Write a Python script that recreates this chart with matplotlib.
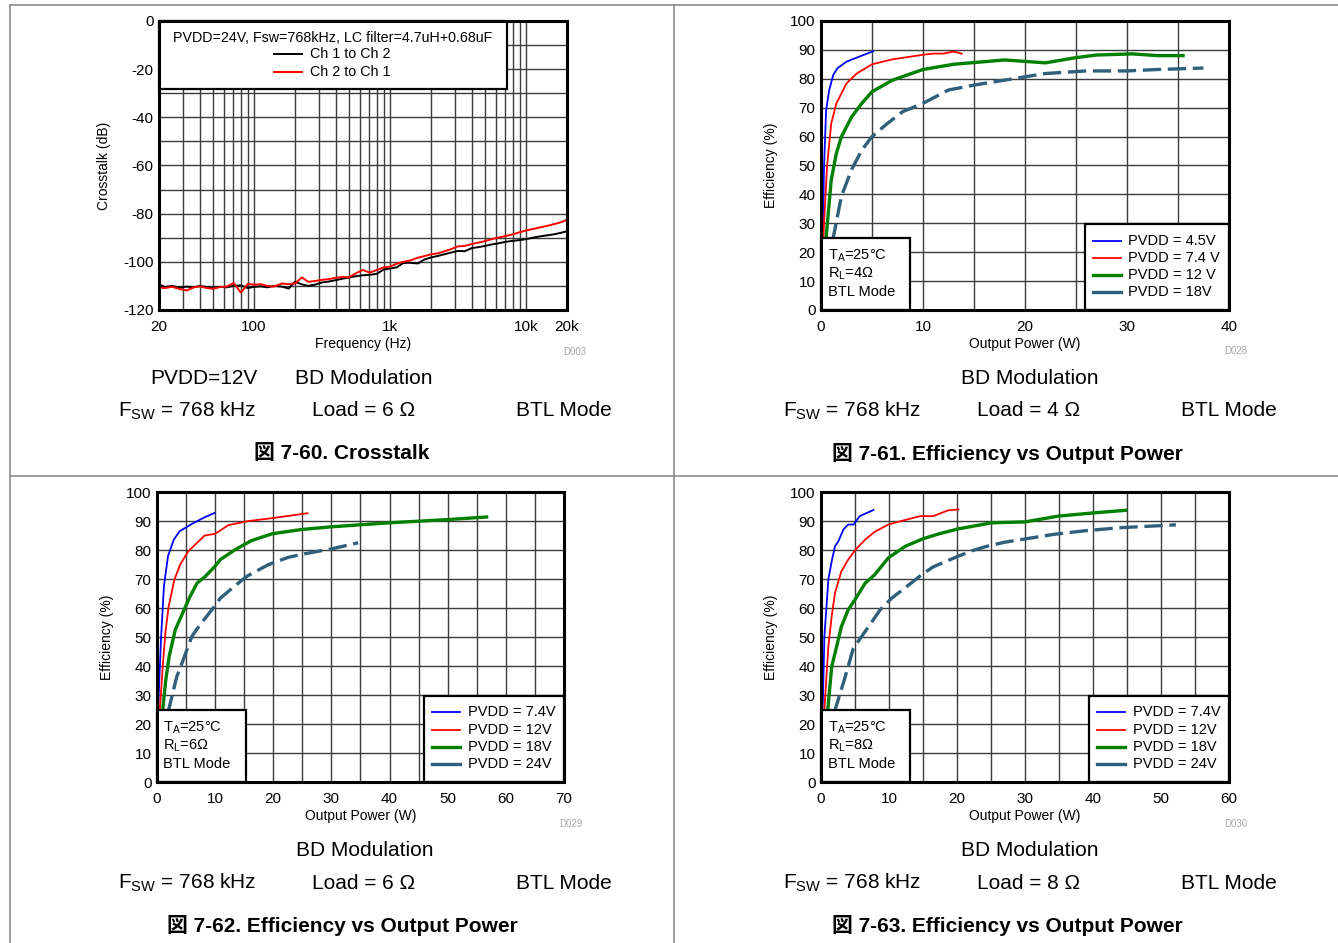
import matplotlib
matplotlib.use("Agg")
import matplotlib.pyplot as plt
from matplotlib.patches import Rectangle
from matplotlib.lines import Line2D
from matplotlib.ticker import MultipleLocator, LogLocator, NullFormatter

plt.rcParams["font.family"] = ["Liberation Sans", "Noto Sans CJK JP", "DejaVu Sans"]
plt.rcParams["mathtext.fontset"] = "custom"
plt.rcParams["mathtext.rm"] = "Liberation Sans"
plt.rcParams["mathtext.it"] = "Liberation Sans:italic"
plt.rcParams["mathtext.bf"] = "Liberation Sans:bold"
plt.rcParams["axes.unicode_minus"] = False

# ---- crosstalk data (dB vs Hz)
ct_freq = [20, 22, 25, 28, 32, 36, 40, 45, 50, 56, 63, 71, 80, 90, 100, 112, 125, 140,
           160, 180, 200, 225, 250, 280, 315, 355, 400, 450, 500, 560, 630, 710, 800,
           900, 1000, 1120, 1250, 1400, 1600, 1800, 2000, 2240, 2500, 2800, 3150, 3550,
           4000, 4500, 5000, 5600, 6300, 7100, 8000, 9000, 10000, 11200, 12500, 14000,
           16000, 18000, 20000]
ct_ch1_ch2 = [-109.2, -110.5, -110.0, -110.8, -110.3, -110.6, -110.0, -110.5, -110.8,
              -110.4, -110.6, -110.0, -109.8, -110.9, -110.4, -110.2, -110.6, -110.0,
              -110.3, -111.1, -108.3, -109.4, -110.0, -109.5, -108.6, -108.2, -107.6,
              -107.0, -106.5, -106.0, -105.6, -105.4, -105.0, -103.2, -102.8, -102.3,
              -100.5, -100.4, -100.7, -99.0, -98.2, -97.6, -96.9, -96.2, -95.5, -95.6,
              -94.3, -93.9, -93.4, -92.8, -92.3, -91.7, -91.3, -91.0, -90.6, -90.0,
              -89.5, -89.1, -88.6, -88.0, -87.3]
ct_ch2_ch1 = [-110.7, -110.9, -110.4, -111.2, -111.9, -110.6, -110.2, -110.9, -111.2,
              -110.5, -110.3, -108.8, -112.8, -109.2, -109.5, -109.3, -110.0, -110.3,
              -109.0, -109.3, -109.0, -106.5, -108.3, -108.0, -107.5, -107.2, -106.6,
              -106.3, -106.4, -104.8, -103.4, -104.5, -103.4, -102.3, -102.0, -100.8,
              -100.0, -99.5, -98.3, -97.6, -96.9, -96.5, -95.7, -94.8, -93.6, -93.4,
              -92.6, -92.0, -91.4, -90.6, -89.9, -89.3, -88.6, -87.7, -87.0, -86.4,
              -85.8, -85.2, -84.4, -83.6, -82.6]

# ---- efficiency, 4 ohm
e4_45_p = [0.1, 0.2, 0.3, 0.5, 0.8, 1.2, 1.6, 2.5, 3.5, 5.1]
e4_45_e = [18, 30, 50, 69, 76, 81.3, 83.6, 85.9, 87.3, 89.5]
e4_74_p = [0.15, 0.3, 0.6, 1.0, 1.5, 2.5, 3.5, 5, 7, 10, 11, 12, 13, 13.8]
e4_74_e = [18, 30, 50, 64.5, 71.4, 78.4, 81.8, 85.0, 86.7, 88.3, 88.7, 88.7, 89.4, 88.7]
e4_12_p = [0.3, 0.5, 1.0, 1.5, 2, 3, 4, 5, 7, 10, 13, 18, 22, 25, 27, 30.5, 33, 35.5]
e4_12_e = [15, 25, 44.9, 54.1, 59.9, 66.8, 71.5, 75.5, 79.5, 83.2, 85.0, 86.5, 85.5,
           87.3, 88.2, 88.6, 88.0, 88.0]
e4_18_p = [0.8, 1.2, 2, 3, 4, 5, 6.5, 8, 10, 12.5, 15, 18.5, 22, 26, 30, 33, 37.5]
e4_18_e = [15, 25, 39.3, 48.6, 55.3, 60.0, 64.5, 68.6, 71.5, 76.1, 77.8, 79.8, 81.8,
           82.7, 82.7, 83.2, 83.7]

# ---- efficiency, 6 ohm
e6_74_p = [0.1, 0.3, 0.7, 1.2, 1.9, 2.9, 3.9, 6, 8, 9.9]
e6_74_e = [15, 30, 49.4, 67.5, 77.9, 83.6, 86.5, 89.0, 91.1, 92.8]
e6_12_p = [0.3, 0.5, 1.0, 1.43, 2, 3, 4, 5.4, 6.9, 8.2, 10, 12.3, 15.7, 19.8, 25.9]
e6_12_e = [15, 25, 40, 51.1, 60.4, 69.8, 75.0, 79.6, 82.5, 85.0, 85.6, 88.6, 90.0,
           91.0, 92.7]
e6_18_p = [0.7, 1.0, 1.5, 2.1, 3.15, 4.4, 5.7, 6.9, 8.3, 10, 10.9, 13.5, 16.3, 19.8,
           24.9, 29.9, 40, 49.9, 56.7]
e6_18_e = [15, 25, 35, 43.3, 52.5, 58.2, 64.0, 68.6, 70.9, 74.4, 76.7, 80.2, 83.3,
           85.6, 87.1, 88.0, 89.4, 90.5, 91.4]
e6_24_p = [1.5, 2, 3.4, 4.4, 6, 7.4, 9.45, 10.9, 13.5, 15.5, 19.2, 22.6, 25.6, 30, 34.6]
e6_24_e = [15, 24.8, 36.3, 41.5, 50.2, 54.2, 59.4, 63.4, 67.8, 71.0, 75.0, 77.5, 78.8,
           80.4, 82.5]

# ---- efficiency, 8 ohm
e8_74_p = [0.1, 0.3, 0.5, 1.08, 1.57, 2.06, 2.55, 3.3, 4, 4.8, 5.7, 7.7]
e8_74_e = [15, 30, 50.2, 69.8, 76.1, 81.3, 83.0, 87.1, 88.8, 88.8, 91.7, 93.8]
e8_12_p = [0.3, 0.5, 1.08, 1.57, 2.06, 3, 4, 5.1, 6.5, 7.9, 9.9, 12.1, 14.6, 16.5,
           18.7, 20.2]
e8_12_e = [15, 25, 46.7, 57.1, 65.2, 72.7, 76.7, 80.2, 83.6, 86.3, 88.8, 90.2, 91.7,
           91.7, 93.7, 94.0]
e8_18_p = [0.7, 1.0, 1.57, 2.06, 3, 4, 5, 6.5, 7.9, 9.9, 12.4, 15, 17.5, 20.2, 25.1,
           30, 34.9, 40, 44.8]
e8_18_e = [15, 25, 39.8, 44.4, 53.6, 59.4, 62.9, 68.6, 71.5, 77.3, 81.3, 83.9, 85.7,
           87.3, 89.4, 89.7, 91.7, 92.8, 93.7]
e8_24_p = [1.5, 2.06, 3.5, 4.75, 7, 8.7, 10.4, 12.6, 14.8, 16.5, 20.2, 22.4, 24.4, 27,
           30.2, 34.2, 39, 44, 52.2]
e8_24_e = [15, 24.8, 35.8, 46.1, 53.6, 59.4, 63.4, 67.4, 71.5, 74.2, 77.9, 79.9, 81.3,
           82.7, 83.9, 85.4, 86.7, 87.7, 88.7]

BLUE, RED, GREEN, TEAL = "#0000ff", "#ff0000", "#008000", "#2f5f7a"
GRID = "#3c3c3c"

fig = plt.figure(figsize=(13.38, 9.43), dpi=100)


def style_axes(ax):
    for s in ax.spines.values():
        s.set_linewidth(2.2)
        s.set_zorder(8)
    ax.tick_params(which="both", length=0, labelsize=11)
    ax.tick_params(axis="x", pad=7)
    ax.tick_params(axis="y", pad=4)
    ax.grid(True, which="both", color=GRID, lw=1.0)
    ax.set_axisbelow(True)


def box(ax, x0, y0, w, h):
    ax.add_patch(Rectangle((x0, y0), w, h, transform=ax.transAxes, fc="white",
                           ec="black", lw=1.6, zorder=6, clip_on=False))


def eff_panel(rect, xmax, series, labels, rl, hx, tx, tag):
    ax = fig.add_axes(rect)
    lines = []
    for (p, e), c in zip(series, [BLUE, RED, GREEN, TEAL]):
        if c == TEAL:
            ln, = ax.plot(p, e, color=c, lw=2.4, dashes=(5.5, 2), zorder=3)
        elif c == GREEN:
            ln, = ax.plot(p, e, color=c, lw=2.4, zorder=3)
        else:
            ln, = ax.plot(p, e, color=c, lw=1.3, zorder=3)
        lines.append(ln)
    ax.set_xlim(0, xmax)
    ax.set_ylim(0, 100)
    ax.xaxis.set_major_locator(MultipleLocator(10))
    ax.xaxis.set_minor_locator(MultipleLocator(5))
    ax.yaxis.set_major_locator(MultipleLocator(10))
    style_axes(ax)
    ax.set_xlabel("Output Power (W)", fontsize=10)
    ax.set_ylabel("Efficiency (%)", fontsize=10)
    ax.xaxis.set_label_coords(0.5, -0.093)
    ax.yaxis.set_label_coords(-0.106, 0.5)
    # condition box
    box(ax, 0, 0, 0.219, 0.248)
    for y, s in zip([0.188, 0.125, 0.062],
                    [r"T$_{\mathrm{A}}$=25°C", r"R$_{\mathrm{L}}$=" + rl + "Ω", "BTL Mode"]):
        ax.text(0.016, y, s, transform=ax.transAxes, fontsize=10.5, va="center",
                zorder=7)
    # legend
    box(ax, hx - 0.02, 0, 1.02 - hx, 0.298)
    for y, ln, lab in zip([0.240, 0.180, 0.120, 0.061], lines, labels):
        h = Line2D([hx, hx + 0.069], [y, y], transform=ax.transAxes,
                   color=ln.get_color(), lw=ln.get_linewidth(), zorder=7)
        ax.add_line(h)
        ax.text(tx, y, lab, transform=ax.transAxes, fontsize=10.5, va="center",
                zorder=7)
    fig.text(rect[0] + rect[2] + 0.0055, rect[1] - 0.044, tag, fontsize=7,
             color="#a8a8a8", ha="center", va="center")
    return ax


# ---- crosstalk panel
ax = fig.add_axes([0.1188, 0.6713, 0.3049, 0.3065])
ct1, = ax.plot(ct_freq, ct_ch1_ch2, color="black", lw=1.4, zorder=3)
ct2, = ax.plot(ct_freq, ct_ch2_ch1, color=RED, lw=1.4, zorder=4)
ax.set_xscale("log")
ax.set_xlim(20, 20000)
ax.set_ylim(-120, 0)
ax.set_xticks([20, 100, 1000, 10000, 20000])
ax.set_xticklabels(["20", "100", "1k", "10k", "20k"])
ax.xaxis.set_minor_locator(LogLocator(base=10, subs=range(2, 10)))
ax.xaxis.set_minor_formatter(NullFormatter())
ax.yaxis.set_major_locator(MultipleLocator(20))
ax.yaxis.set_minor_locator(MultipleLocator(10))
style_axes(ax)
ax.set_xlabel("Frequency (Hz)", fontsize=10)
ax.set_ylabel("Crosstalk (dB)", fontsize=10)
ax.xaxis.set_label_coords(0.5, -0.093)
ax.yaxis.set_label_coords(-0.118, 0.5)
box(ax, 0, 0.764, 0.854, 0.236)
ax.text(0.426, 0.941, "PVDD=24V, Fsw=768kHz, LC filter=4.7uH+0.68uF",
        transform=ax.transAxes, fontsize=10.3, ha="center", va="center", zorder=7)
for y, ln, lab in zip([0.886, 0.824], [ct1, ct2], ["Ch 1 to Ch 2", "Ch 2 to Ch 1"]):
    ax.add_line(Line2D([0.282, 0.350], [y, y], transform=ax.transAxes,
                       color=ln.get_color(), lw=1.4, zorder=7))
    ax.text(0.370, y, lab, transform=ax.transAxes, fontsize=10.3, va="center", zorder=7)
fig.text(0.4297, 0.6267, "D003", fontsize=7, color="#a8a8a8", ha="center", va="center")

eff_panel([0.6136, 0.6713, 0.3049, 0.3065], 40,
          [(e4_45_p, e4_45_e), (e4_74_p, e4_74_e), (e4_12_p, e4_12_e), (e4_18_p, e4_18_e)],
          ["PVDD = 4.5V", "PVDD = 7.4 V", "PVDD = 12 V", "PVDD = 18V"],
          "4", 0.667, 0.752, "D028")
eff_panel([0.1173, 0.1707, 0.3042, 0.3075], 70,
          [(e6_74_p, e6_74_e), (e6_12_p, e6_12_e), (e6_18_p, e6_18_e), (e6_24_p, e6_24_e)],
          ["PVDD = 7.4V", "PVDD = 12V", "PVDD = 18V", "PVDD = 24V"],
          "6", 0.676, 0.764, "D029")
eff_panel([0.6136, 0.1707, 0.3049, 0.3075], 60,
          [(e8_74_p, e8_74_e), (e8_12_p, e8_12_e), (e8_18_p, e8_18_e), (e8_24_p, e8_24_e)],
          ["PVDD = 7.4V", "PVDD = 12V", "PVDD = 18V", "PVDD = 24V"],
          "8", 0.676, 0.764, "D030")

# ---- conditions and captions
FS = 15
fig.text(0.1121, 0.5981, "PVDD=12V", fontsize=FS, va="center")
fig.text(0.2205, 0.5981, "BD Modulation", fontsize=FS, va="center")
fig.text(0.7698, 0.5981, "BD Modulation", fontsize=FS, va="center", ha="center")
fig.text(0.2728, 0.0976, "BD Modulation", fontsize=FS, va="center", ha="center")
fig.text(0.7698, 0.0976, "BD Modulation", fontsize=FS, va="center", ha="center")

for y, cx, xs, load, cap in [
        (0.5642, 0.2556, (0.0882, 0.2332, 0.3857), "6", "図 7-60. Crosstalk"),
        (0.5642, 0.7526, (0.5852, 0.7302, 0.8827), "4", "図 7-61. Efficiency vs Output Power"),
        (0.0636, 0.2556, (0.0882, 0.2332, 0.3857), "6", "図 7-62. Efficiency vs Output Power"),
        (0.0636, 0.7526, (0.5852, 0.7302, 0.8827), "8", "図 7-63. Efficiency vs Output Power")]:
    fig.text(xs[0], y, r"F$_{\mathrm{SW}}$ = 768 kHz", fontsize=FS, va="center")
    fig.text(xs[1], y, "Load = " + load + " Ω", fontsize=FS, va="center")
    fig.text(xs[2], y, "BTL Mode", fontsize=FS, va="center")
    fig.text(cx, y - 0.0446, cap, fontsize=FS, fontweight="bold", ha="center", va="center")

# ---- table frame
fc = "#8c8c8c"
fig.add_artist(Line2D([0.0075, 0.0075], [0, 0.9947], transform=fig.transFigure, color=fc, lw=1.2))
fig.add_artist(Line2D([0.0075, 1], [0.9947, 0.9947], transform=fig.transFigure, color=fc, lw=1.2))
fig.add_artist(Line2D([0.5037, 0.5037], [0, 0.9947], transform=fig.transFigure, color=fc, lw=1.2))
fig.add_artist(Line2D([0.0075, 1], [0.4952, 0.4952], transform=fig.transFigure, color=fc, lw=1.2))

fig.savefig("out.png", dpi=100)
